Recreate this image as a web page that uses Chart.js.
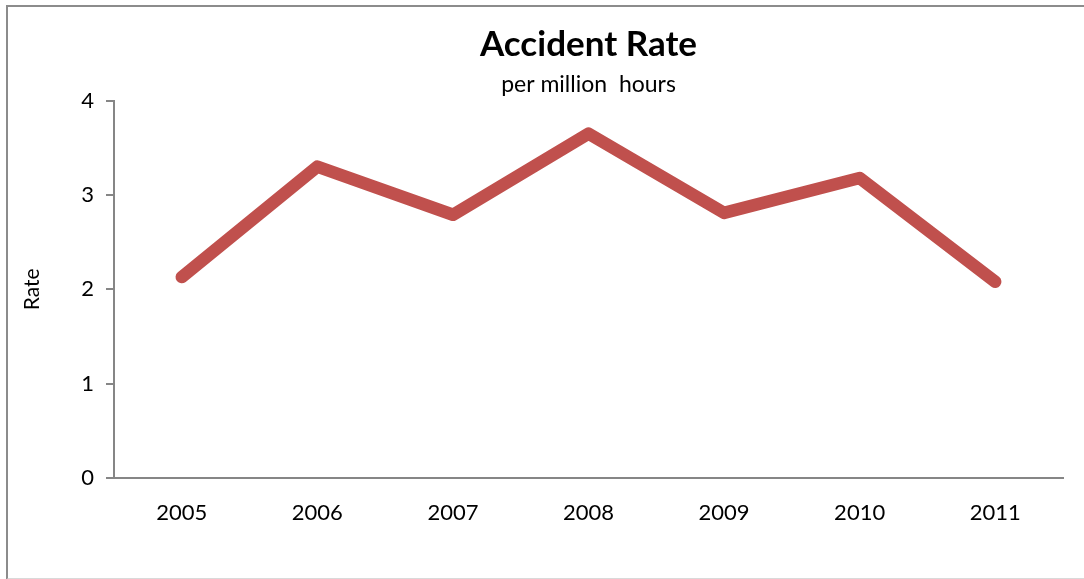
<!DOCTYPE html>
<html>
<head>
<meta charset="utf-8">
<script src="https://cdn.jsdelivr.net/npm/chart.js@4/dist/chart.umd.min.js"></script>
<style>
  body { margin: 0; background: #fff; }
  #wrap { position: relative; width: 1084px; height: 579px; overflow: hidden; }
  #frame { position: absolute; left: 6px; top: 5px; width: 1090px; height: 571px; border: 2px solid #8c8c8c; border-bottom-color: #d9d9d9; }
  canvas { position: absolute; left: 0; top: 0; }
</style>
</head>
<body>
<div id="wrap">
  <div id="frame"></div>
  <canvas id="chart" width="1084" height="579"></canvas>
</div>
<script>
const years = ['2005', '2006', '2007', '2008', '2009', '2010', '2011'];
const rates = [2.13, 3.3, 2.79, 3.65, 2.81, 3.18, 2.08];
const yTicks = [0, 1, 2, 3, 4];

const font = 'Lato, "Open Sans", sans-serif';
const axisGray = '#868686';

new Chart(document.getElementById('chart'), {
    type: 'line',
    data: {
        labels: years,
        datasets: [{
            label: 'Rate',
            data: rates,
            borderColor: '#c0504d',
            borderWidth: 12.5,
            borderCapStyle: 'round',
            borderJoinStyle: 'round',
            pointRadius: 0,
            tension: 0,
            fill: false
        }]
    },
    options: {
        responsive: false,
        animation: false,
        layout: { padding: { left: 0, right: 21, top: 0, bottom: 0 } },
        plugins: {
            legend: { display: false },
            tooltip: { enabled: false },
            title: {
                display: true,
                fullSize: false,
                text: 'Accident Rate',
                color: '#000',
                font: { family: font, size: 35, weight: 'bold' },
                padding: { top: 24, bottom: 5 }
            },
            subtitle: {
                display: true,
                fullSize: false,
                text: 'per million  hours',
                color: '#000',
                font: { family: font, size: 23 },
                padding: { top: 0, bottom: 2 }
            }
        },
        scales: {
            x: {
                offset: true,
                grid: { display: false },
                border: { display: true, color: axisGray, width: 2 },
                ticks: { color: '#000', font: { family: font, size: 22 }, padding: 14 },
                afterFit: s => { s.height = 101; }
            },
            y: {
                min: 0,
                max: 4,
                afterBuildTicks: s => { s.ticks = yTicks.map(v => ({ value: v })); },
                grid: { display: true, drawOnChartArea: false, drawTicks: true, tickLength: 8, color: axisGray, lineWidth: 2 },
                border: { display: true, color: axisGray, width: 2 },
                ticks: { color: '#000', font: { family: font, size: 22 }, padding: 12 },
                title: {
                    display: true,
                    text: 'Rate',
                    color: '#000',
                    font: { family: font, size: 21 },
                    padding: { top: 20, bottom: 0 }
                },
                afterFit: s => { s.width = 114; }
            }
        }
    }
});
</script>
</body>
</html>
